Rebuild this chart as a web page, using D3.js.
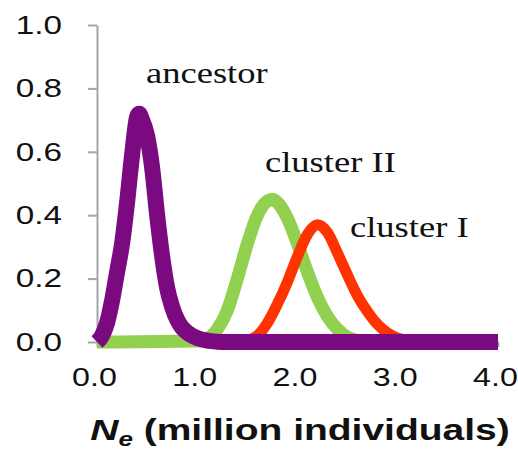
<!DOCTYPE html>
<html>
<head>
<meta charset="utf-8">
<script src="https://cdnjs.cloudflare.com/ajax/libs/d3/7.8.5/d3.min.js"></script>
<style>
  body { margin: 0; background: #fff; }
  svg { display: block; }
</style>
</head>
<body>
<div id="chart"></div>
<script>
// values (Ne in million individuals, density)
var ancestorNe      = [0.00, 0.05, 0.10, 0.15, 0.20, 0.25, 0.30, 0.35, 0.40, 0.42, 0.45, 0.50, 0.55, 0.60, 0.65, 0.70, 0.75, 0.80, 0.85, 0.90, 1.00, 1.10, 1.20, 1.30, 2.00, 3.00, 4.00];
var ancestorDensity = [0.00, 0.02, 0.06, 0.13, 0.22, 0.31, 0.44, 0.59, 0.71, 0.72, 0.70, 0.65, 0.55, 0.40, 0.27, 0.17, 0.11, 0.07, 0.045, 0.03, 0.012, 0.004, 0.001, 0.00, 0.00, 0.00, 0.00];

var cluster2Ne      = [0.0, 1.0, 1.1, 1.2, 1.3, 1.4, 1.5, 1.6, 1.7, 1.75, 1.8, 1.9, 2.0, 2.1, 2.2, 2.3, 2.4, 2.5, 2.6, 2.7, 4.0];
var cluster2Density = [0.0, 0.003, 0.01, 0.04, 0.10, 0.20, 0.31, 0.40, 0.445, 0.45, 0.44, 0.39, 0.31, 0.22, 0.14, 0.08, 0.04, 0.015, 0.005, 0.0, 0.0];

var cluster1Ne      = [1.3, 1.4, 1.5, 1.6, 1.7, 1.8, 1.9, 2.0, 2.1, 2.2, 2.3, 2.4, 2.5, 2.6, 2.7, 2.8, 2.9, 3.0, 3.1, 3.2, 4.0];
var cluster1Density = [0.0, 0.0, 0.005, 0.02, 0.06, 0.12, 0.19, 0.27, 0.34, 0.37, 0.345, 0.28, 0.21, 0.145, 0.095, 0.055, 0.028, 0.012, 0.004, 0.0, 0.0];

var xTicks = [0, 1, 2, 3, 4];
var yTicks = [0, 0.2, 0.4, 0.6, 0.8, 1.0];

(function draw() {
    "use strict";
    var W = 518, H = 453;
    var stretch = 1.24;   // the picture's text is wider than it is tall

    var svg = d3.select('#chart')
        .append('svg')
        .attr('width', W)
        .attr('height', H);

    var x = d3.scaleLinear().domain([0, 4]).range([97, 498]);
    var y = d3.scaleLinear().domain([0, 1]).range([342, 25]);

    //axes///////////////////////////
    var yAxis = svg.append('g')
        .attr('transform', 'translate(' + x(0) + ',0)')
        .call(d3.axisLeft(y).tickValues(yTicks).tickSize(9).tickSizeOuter(0)
              .tickFormat(d3.format('.1f')));

    var xAxis = svg.append('g')
        .attr('transform', 'translate(0,' + y(0) + ')')
        .call(d3.axisBottom(x).tickValues(xTicks).tickSize(5).tickSizeOuter(0)
              .tickFormat(d3.format('.1f')));

    [yAxis, xAxis].forEach(function(g) {
        g.select('.domain').attr('stroke', '#a6a6a6').attr('stroke-width', 2);
        g.selectAll('.tick line').attr('stroke', '#a6a6a6').attr('stroke-width', 2);
        g.selectAll('.tick text')
            .style('font-family', 'Liberation Sans, Arial, sans-serif')
            .style('font-size', '26px')
            .attr('fill', '#111');
    });

    yAxis.selectAll('.tick text')
        .attr('x', 0)
        .attr('transform', 'translate(-35,0) scale(1.28,1)');

    xAxis.selectAll('.tick text')
        .attr('y', 0)
        .attr('transform', 'translate(-3,26) scale(' + stretch + ',1)');

    //curves///////////////////////////
    var line = d3.line()
        .x(function(d) { return x(d[0]); })
        .y(function(d) { return y(d[1]); })
        .curve(d3.curveMonotoneX);

    var series = [
        {name: 'cluster II', ne: cluster2Ne, dens: cluster2Density, color: '#92d050', width: 13},
        {name: 'cluster I',  ne: cluster1Ne, dens: cluster1Density, color: '#ff3300', width: 11},
        {name: 'ancestor',   ne: ancestorNe, dens: ancestorDensity, color: '#7b0a80', width: 16}
    ];

    series.forEach(function(s) {
        var pts = d3.zip(s.ne, s.dens);
        svg.append('path')
            .datum(pts)
            .attr('d', line)
            .attr('fill', 'none')
            .attr('stroke', s.color)
            .attr('stroke-width', s.width)
            .attr('stroke-linejoin', 'round')
            .attr('stroke-linecap', 'butt');
    });

    //labels///////////////////////////
    var labels = [
        {text: 'ancestor',   x: 146, y: 83},
        {text: 'cluster II', x: 265, y: 172},
        {text: 'cluster I',  x: 350, y: 237}
    ];

    svg.selectAll('.curve-label')
        .data(labels)
        .enter()
        .append('text')
        .attr('class', 'curve-label')
        .attr('transform', function(d) {
            return 'translate(' + d.x + ',' + d.y + ') scale(1.26,1)';
        })
        .style('font-family', 'Liberation Serif, Times New Roman, serif')
        .style('font-size', '29px')
        .attr('fill', '#111')
        .text(function(d) { return d.text; });

    //x axis title
    var title = svg.append('text')
        .attr('transform', 'translate(300,440) scale(1.3,1)')
        .attr('text-anchor', 'middle')
        .style('font-family', 'Liberation Sans, Arial, sans-serif')
        .style('font-size', '30px')
        .style('font-weight', 'bold')
        .attr('fill', '#111');
    title.append('tspan').style('font-style', 'italic').text('N');
    title.append('tspan').style('font-style', 'italic').style('font-size', '20px')
        .attr('dy', 6).text('e');
    title.append('tspan').attr('dy', -6).text(' (million individuals)');
})();
</script>
</body>
</html>
